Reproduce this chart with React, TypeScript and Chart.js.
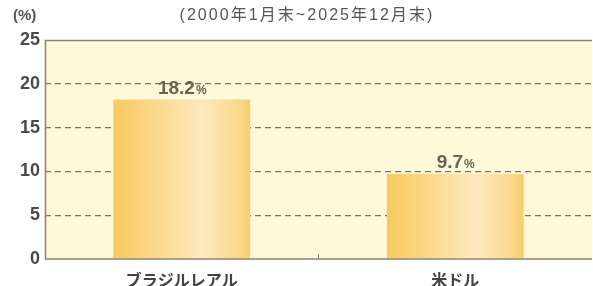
import React, { useEffect, useRef } from "react";
import { Chart, registerables } from "chart.js";

Chart.register(...registerables);

const categories = ["ブラジルレアル", "米ドル"];
const riskValues = [18.2, 9.7];
const yTicks = [0, 5, 10, 15, 20, 25];
const unitLabel = "(%)";
const subtitle = "(2000年1月末~2025年12月末)";

const FONT = '"Liberation Sans", "Noto Sans CJK JP", sans-serif';

const framePlugin = {
  id: "framePlugin",
  beforeDraw(chart: any) {
    const { ctx, chartArea: a } = chart;
    ctx.save();
    ctx.fillStyle = "#fff8d9";
    ctx.fillRect(a.left, a.top, a.right - a.left, a.bottom - a.top);
    ctx.restore();
  },
  afterDatasetsDraw(chart: any) {
    const { ctx, chartArea: a } = chart;
    ctx.save();
    ctx.strokeStyle = "#8f8172";
    ctx.lineWidth = 1.5;
    ctx.beginPath();
    ctx.moveTo(a.right, a.top + 0.5);
    ctx.lineTo(a.left + 0.5, a.top + 0.5);
    ctx.lineTo(a.left + 0.5, a.bottom);
    ctx.lineTo(a.right, a.bottom);
    ctx.stroke();
    const x = chart.scales.x;
    const mid = (x.getPixelForValue(0) + x.getPixelForValue(1)) / 2;
    ctx.lineWidth = 1;
    ctx.beginPath();
    ctx.moveTo(mid, a.bottom);
    ctx.lineTo(mid, a.bottom - 5);
    ctx.stroke();
    const meta = chart.getDatasetMeta(0);
    ctx.fillStyle = "#6d6055";
    ctx.textBaseline = "alphabetic";
    meta.data.forEach((bar: any, i: number) => {
      const num = riskValues[i].toFixed(1);
      ctx.font = `bold 19px ${FONT}`;
      const w1 = ctx.measureText(num).width;
      ctx.font = `bold 12px ${FONT}`;
      const w2 = ctx.measureText("%").width;
      const start = bar.x - (w1 + w2) / 2;
      const y = bar.y - 6;
      ctx.font = `bold 19px ${FONT}`;
      ctx.textAlign = "left";
      ctx.fillText(num, start, y);
      ctx.font = `bold 12px ${FONT}`;
      ctx.fillText("%", start + w1 + 1, y);
    });
    ctx.restore();
  },
  afterDraw(chart: any) {
    const { ctx } = chart;
    ctx.save();
    ctx.fillStyle = "#555555";
    ctx.textBaseline = "middle";
    ctx.font = `bold 15px ${FONT}`;
    ctx.textAlign = "left";
    ctx.fillText(unitLabel, 13, 16);
    ctx.font = `16px ${FONT}`;
    const w = ctx.measureText(subtitle).width;
    const n = Array.from(subtitle).length;
    const target = 255;
    const ls = Math.max(0, (target - w) / n);
    (ctx as any).letterSpacing = `${ls}px`;
    ctx.textAlign = "left";
    ctx.fillText(subtitle, 307 - target / 2, 16);
    ctx.restore();
  },
};

export default function App() {
  const ref = useRef<HTMLCanvasElement | null>(null);
  useEffect(() => {
    if (!ref.current) return;
    const chart = new Chart(ref.current, {
      type: "bar",
      data: {
        labels: categories,
        datasets: [
          {
            data: riskValues,
            backgroundColor: (c: any) => {
              const ch = c.chart;
              const a = ch.chartArea;
              const sx = ch.scales && ch.scales.x;
              if (!a || !sx) return "#f9cb62";
              const cx = sx.getPixelForValue(c.dataIndex);
              const half = ((a.right - a.left) / categories.length) * 0.25;
              if (!isFinite(cx) || !isFinite(half)) return "#f9cb62";
              const g = ch.ctx.createLinearGradient(cx - half, 0, cx + half, 0);
              g.addColorStop(0, "#f8c95c");
              g.addColorStop(0.65, "#fee9bf");
              g.addColorStop(0.9, "#fad98f");
              g.addColorStop(1, "#f7cd6e");
              return g;
            },
            borderWidth: 0,
            barPercentage: 0.5,
            categoryPercentage: 1,
          },
        ],
      },
      plugins: [framePlugin],
      options: {
        responsive: false,
        animation: false,
        devicePixelRatio: 1,
        layout: { padding: { top: 40, right: 1, left: 0, bottom: 0 } },
        plugins: { legend: { display: false }, tooltip: { enabled: false } },
        scales: {
          x: {
            grid: { display: false },
            border: { display: false },
            ticks: {
              color: "#444",
              font: { family: FONT, size: 16, weight: "bold" },
              padding: 5,
            },
            afterFit: (s: any) => {
              s.height = 27;
            },
          },
          y: {
            min: 0,
            max: 25,
            afterBuildTicks: (s: any) => {
              s.ticks = yTicks.map((v) => ({ value: v }));
            },
            grid: {
              color: (c: any) =>
                c.tick && (c.tick.value === 0 || c.tick.value === 25)
                  ? "rgba(0,0,0,0)"
                  : "#7d7064",
              lineWidth: 1.2,
              drawTicks: false,
            },
            border: { display: false, dash: [6, 4] },
            ticks: {
              color: "#4a4a4a",
              font: { family: FONT, size: 18, weight: "bold" },
              padding: 5,
            },
            afterFit: (s: any) => {
              s.width = 45;
            },
          },
        },
      },
    } as any);
    return () => chart.destroy();
  }, []);
  return (
    <div style={{ position: "fixed", left: 0, top: 0, width: 593, height: 286, background: "#ffffff" }}>
      <canvas ref={ref} width={593} height={286} style={{ width: 593, height: 286 }} />
    </div>
  );
}
